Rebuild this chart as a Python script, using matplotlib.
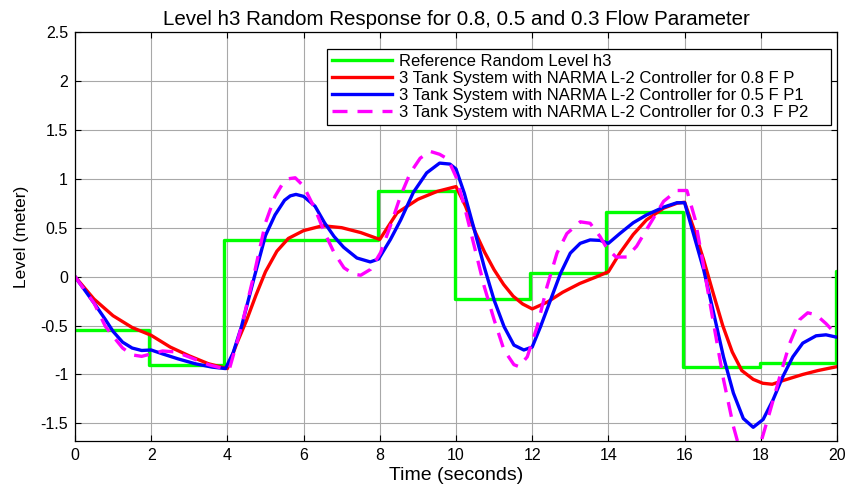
import matplotlib
matplotlib.use("Agg")
import matplotlib.pyplot as plt

# ---- data ----
ref_t = [0, 1.94, 3.92, 7.95, 9.97, 11.93, 13.94, 15.97, 17.98, 19.96, 20]
ref_h = [-0.55, -0.90, 0.37, 0.875, -0.225, 0.04, 0.665, -0.92, -0.88, 0.06, 0.06]

red_t = [0, 0.5, 1, 1.5, 2, 2.5, 3, 3.5, 4, 4.25, 4.5, 4.75, 5, 5.3, 5.6, 6, 6.5, 7, 7.5, 8,
         8.45, 9, 9.5, 10, 10.25, 10.5, 10.75, 11, 11.25, 11.5, 11.75, 12, 12.4, 12.8, 13.25,
         13.7, 14, 14.3, 14.65, 15, 15.45, 15.8, 16, 16.25, 16.5, 16.75, 17, 17.25, 17.5, 17.8,
         18.05, 18.3, 18.6, 19.1, 19.5, 20]
red_h = [0, -0.23, -0.40, -0.52, -0.60, -0.72, -0.81, -0.89, -0.94, -0.68, -0.45, -0.19, 0.05,
         0.26, 0.39, 0.47, 0.52, 0.50, 0.45, 0.38, 0.65, 0.79, 0.87, 0.92, 0.72, 0.46, 0.25,
         0.07, -0.08, -0.20, -0.28, -0.33, -0.26, -0.16, -0.07, 0.0, 0.05, 0.24, 0.43, 0.58,
         0.70, 0.75, 0.76, 0.48, 0.17, -0.17, -0.50, -0.77, -0.96, -1.05, -1.09, -1.10, -1.06,
         -1.0, -0.96, -0.92]

blue_t = [0, 0.5, 0.8, 1, 1.25, 1.5, 1.75, 2, 2.3, 2.7, 3.15, 3.6, 3.95, 4.15, 4.37, 4.71, 5,
          5.25, 5.5, 5.65, 5.8, 6, 6.3, 6.55, 6.8, 7.05, 7.4, 7.75, 7.97, 8.28, 8.55, 8.88, 9.23,
          9.57, 9.84, 10, 10.22, 10.48, 10.74, 11, 11.26, 11.52, 11.78, 12, 12.22, 12.48,
          12.74, 13, 13.26, 13.52, 13.78, 14, 14.3, 14.65, 15, 15.45, 15.8, 16, 16.23, 16.5,
          16.76, 17.02, 17.28, 17.54, 17.8, 18.06, 18.32, 18.58, 18.84, 19.1, 19.45, 19.71, 20]
blue_h = [0, -0.27, -0.44, -0.56, -0.67, -0.73, -0.755, -0.75, -0.79, -0.84, -0.89, -0.925,
          -0.94, -0.78, -0.51, 0.0, 0.42, 0.63, 0.78, 0.825, 0.84, 0.82, 0.72, 0.55, 0.41, 0.30, 0.19,
          0.15, 0.18, 0.38, 0.58, 0.86, 1.06, 1.16, 1.15, 1.10, 0.85, 0.48, 0.10, -0.24, -0.51,
          -0.70, -0.75, -0.72, -0.51, -0.24, 0.03, 0.24, 0.34, 0.375, 0.37, 0.34, 0.44, 0.55,
          0.63, 0.71, 0.755, 0.755, 0.44, 0.07, -0.37, -0.82, -1.19, -1.45, -1.54, -1.46,
          -1.26, -1.02, -0.82, -0.68, -0.605, -0.595, -0.62]

mag_t = [0, 0.5, 0.8, 1, 1.25, 1.5, 1.75, 2, 2.3, 2.65, 3.05, 3.5, 3.95, 4.06, 4.37, 4.71, 5.0,
         5.25, 5.45, 5.6, 5.78, 6, 6.3, 6.55, 6.8, 7.06, 7.32, 7.5, 7.76, 8.02, 8.28, 8.54, 8.8,
         9.06, 9.32, 9.57, 9.79, 10, 10.22, 10.48, 10.74, 11, 11.26, 11.52, 11.65, 11.87,
         12.13, 12.39, 12.65, 12.91, 13.26, 13.52, 13.78, 13.96, 14.2, 14.48, 14.74, 15,
         15.45, 15.8, 16.06, 16.28, 16.5, 16.76, 17.02, 17.28, 17.4, 17.7, 18.02, 18.23,
         18.5, 18.76, 19.02, 19.23, 19.45, 19.71, 20]
mag_h = [0, -0.27, -0.51, -0.61, -0.73, -0.80, -0.815, -0.79, -0.76, -0.77, -0.83, -0.90,
         -0.945, -0.935, -0.51, 0.04, 0.55, 0.82, 0.95, 1.0, 1.01, 0.925, 0.69, 0.45, 0.245, 0.09,
         0.024, 0.014, 0.075, 0.245, 0.52, 0.82, 1.06, 1.21, 1.28, 1.25, 1.20, 1.02, 0.72,
         0.31, -0.10, -0.44, -0.75, -0.90, -0.92, -0.82, -0.51, -0.10, 0.24, 0.44, 0.56,
         0.545, 0.41, 0.29, 0.20, 0.20, 0.31, 0.48, 0.77, 0.88, 0.88, 0.58, 0.10, -0.48,
         -1.05, -1.53, -1.70, -1.95, -1.67, -1.39, -1.02, -0.68, -0.44, -0.37, -0.39, -0.48,
         -0.60]

labels = ["Reference Random Level h3",
          "3 Tank System with NARMA L-2 Controller for 0.8 F P",
          "3 Tank System with NARMA L-2 Controller for 0.5 F P1",
          "3 Tank System with NARMA L-2 Controller for 0.3  F P2"]
xticks = [0, 2, 4, 6, 8, 10, 12, 14, 16, 18, 20]
yticks = [-1.5, -1, -0.5, 0, 0.5, 1, 1.5, 2, 2.5]
ytick_labels = ['-1.5', '-1', '-0.5', '0', '0.5', '1', '1.5', '2', '2.5']

plt.rcParams['font.family'] = ['Liberation Sans', 'DejaVu Sans']

fig = plt.figure(figsize=(8.49, 4.86), dpi=100)
ax = fig.add_axes([0.0883, 0.0926, 0.8976, 0.8416])

lw = 2.4
ax.plot(ref_t, ref_h, drawstyle='steps-post', color='#00ff00', lw=lw, label=labels[0])
ax.plot(red_t, red_h, color='#ff0000', lw=lw, label=labels[1], solid_joinstyle='round')
ax.plot(blue_t, blue_h, color='#0000ff', lw=lw, label=labels[2], solid_joinstyle='round')
ax.plot(mag_t, mag_h, color='#ff00ff', lw=lw, linestyle=(0, (4.5, 3)), label=labels[3])

ax.set_xlim(0, 20)
ax.set_ylim(-1.68, 2.5)
ax.set_xticks(xticks)
ax.set_xticklabels([str(v) for v in xticks])
ax.set_yticks(yticks)
ax.set_yticklabels(ytick_labels)
ax.grid(True, color='#a8a8a8', lw=0.8)
ax.set_axisbelow(True)
ax.tick_params(direction='in', top=True, right=True, length=4, width=0.8, labelsize=11.5,
               pad=5)
for s in ax.spines.values():
    s.set_linewidth(0.9)

ax.set_title("Level h3 Random Response for 0.8, 0.5 and 0.3 Flow Parameter",
             fontsize=14.8, pad=5)
ax.set_xlabel("Time (seconds)", fontsize=14, labelpad=3)
ax.set_ylabel("Level (meter)", fontsize=12.5)
ax.yaxis.set_label_coords(-0.06, 0.5)

leg = ax.legend(loc='upper left', bbox_to_anchor=(0.331, 0.768, 0.661, 0.19), mode='expand',
                fontsize=12, fancybox=False, framealpha=1, edgecolor='black',
                handlelength=3.6, handletextpad=0.4, labelspacing=0.12, borderpad=0.3,
                borderaxespad=0)
leg.get_frame().set_linewidth(0.9)

fig.savefig("out.png", dpi=100)
